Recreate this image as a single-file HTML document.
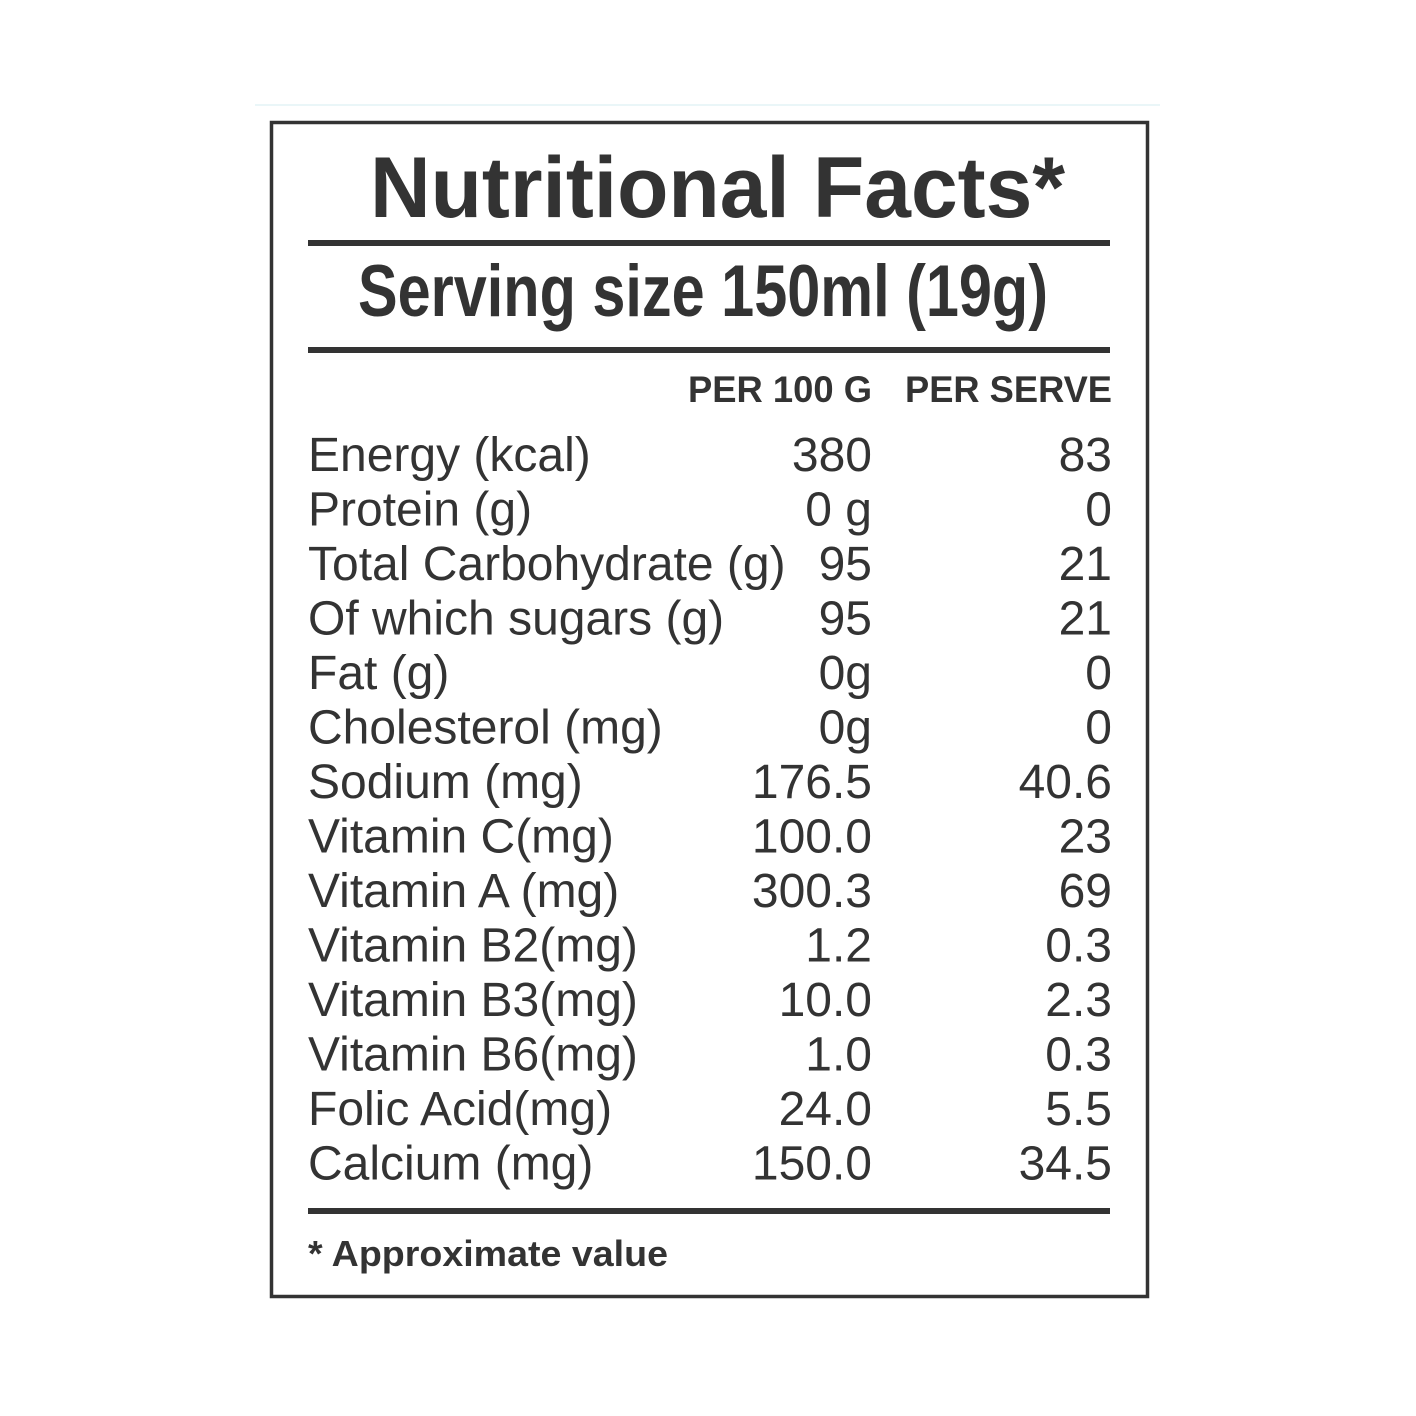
<!DOCTYPE html>
<html><head><meta charset="utf-8"><style>
html,body{margin:0;padding:0;background:#fff;}
svg{display:block;}
text{font-family:"Liberation Sans",Arial,sans-serif;fill:#333;}
</style></head><body>
<svg width="1416" height="1416" viewBox="0 0 1416 1416" xmlns="http://www.w3.org/2000/svg">
<rect x="0" y="0" width="1416" height="1416" fill="#fff"/>
<rect x="255" y="104" width="905" height="2" fill="#eaf6f8"/>
<rect x="271.5" y="122.5" width="876" height="1174" fill="none" stroke="#333" stroke-width="3.5"/>
<text x="370" y="217" font-size="86" font-weight="bold" textLength="695" lengthAdjust="spacingAndGlyphs">Nutritional Facts*</text>
<rect x="308" y="240" width="802" height="6" fill="#333"/>
<text x="358" y="316" font-size="73" font-weight="bold" textLength="690" lengthAdjust="spacingAndGlyphs">Serving size 150ml (19g)</text>
<rect x="308" y="347" width="802" height="6" fill="#333"/>
<text x="872" y="402" font-size="37" font-weight="bold" text-anchor="end" textLength="184" lengthAdjust="spacingAndGlyphs">PER 100 G</text>
<text x="1112" y="402" font-size="37" font-weight="bold" text-anchor="end" textLength="207" lengthAdjust="spacingAndGlyphs">PER SERVE</text>
<g font-size="48">
<text x="308" y="471">Energy (kcal)</text><text x="872" y="471" text-anchor="end">380</text><text x="1112" y="471" text-anchor="end">83</text>
<text x="308" y="525.5">Protein (g)</text><text x="872" y="525.5" text-anchor="end">0 g</text><text x="1112" y="525.5" text-anchor="end">0</text>
<text x="308" y="580">Total Carbohydrate (g)</text><text x="872" y="580" text-anchor="end">95</text><text x="1112" y="580" text-anchor="end">21</text>
<text x="308" y="634.5">Of which sugars (g)</text><text x="872" y="634.5" text-anchor="end">95</text><text x="1112" y="634.5" text-anchor="end">21</text>
<text x="308" y="689">Fat (g)</text><text x="872" y="689" text-anchor="end">0g</text><text x="1112" y="689" text-anchor="end">0</text>
<text x="308" y="743.5">Cholesterol (mg)</text><text x="872" y="743.5" text-anchor="end">0g</text><text x="1112" y="743.5" text-anchor="end">0</text>
<text x="308" y="798">Sodium (mg)</text><text x="872" y="798" text-anchor="end">176.5</text><text x="1112" y="798" text-anchor="end">40.6</text>
<text x="308" y="852.5">Vitamin C(mg)</text><text x="872" y="852.5" text-anchor="end">100.0</text><text x="1112" y="852.5" text-anchor="end">23</text>
<text x="308" y="907">Vitamin A (mg)</text><text x="872" y="907" text-anchor="end">300.3</text><text x="1112" y="907" text-anchor="end">69</text>
<text x="308" y="961.5">Vitamin B2(mg)</text><text x="872" y="961.5" text-anchor="end">1.2</text><text x="1112" y="961.5" text-anchor="end">0.3</text>
<text x="308" y="1016">Vitamin B3(mg)</text><text x="872" y="1016" text-anchor="end">10.0</text><text x="1112" y="1016" text-anchor="end">2.3</text>
<text x="308" y="1070.5">Vitamin B6(mg)</text><text x="872" y="1070.5" text-anchor="end">1.0</text><text x="1112" y="1070.5" text-anchor="end">0.3</text>
<text x="308" y="1125">Folic Acid(mg)</text><text x="872" y="1125" text-anchor="end">24.0</text><text x="1112" y="1125" text-anchor="end">5.5</text>
<text x="308" y="1179.5">Calcium (mg)</text><text x="872" y="1179.5" text-anchor="end">150.0</text><text x="1112" y="1179.5" text-anchor="end">34.5</text>
</g>
<rect x="308" y="1208" width="802" height="6" fill="#333"/>
<text x="308" y="1266" font-size="36" font-weight="bold" textLength="360" lengthAdjust="spacingAndGlyphs">* Approximate value</text>
</svg>
</body></html>
